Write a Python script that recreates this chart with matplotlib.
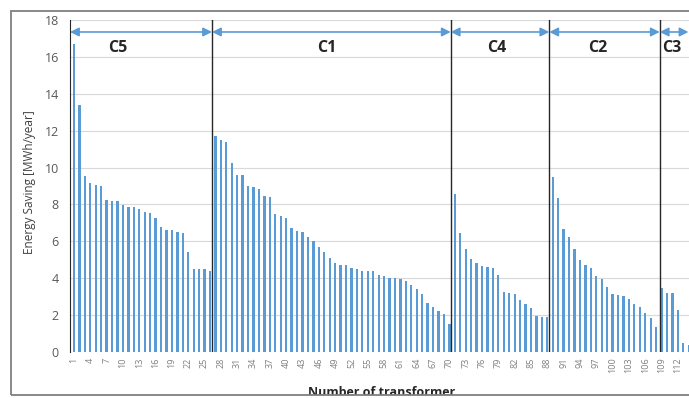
import numpy as np
import matplotlib.pyplot as plt
from matplotlib.patches import Rectangle

plt.rcParams['font.family'] = ['Open Sans', 'DejaVu Sans']

# Energy saving per transformer [MWh/year], sorted within each cluster
c5 = [16.7, 13.4, 9.54, 9.16, 9.07, 9.0, 8.23, 8.17, 8.17, 7.99, 7.86, 7.86, 7.74,
      7.61, 7.52, 7.28, 6.78, 6.62, 6.62, 6.51, 6.45, 5.44, 4.5, 4.5, 4.5, 4.41]
c1 = [11.71, 11.5, 11.37, 10.25, 9.6, 9.6, 9.0, 8.93, 8.82, 8.46, 8.41, 7.47, 7.39,
      7.27, 6.74, 6.54, 6.5, 6.25, 6.04, 5.69, 5.44, 5.08, 4.81, 4.72, 4.72, 4.56,
      4.48, 4.41, 4.39, 4.37, 4.19, 4.14, 4.01, 4.0, 3.98, 3.85, 3.65, 3.42, 3.13,
      2.64, 2.42, 2.22, 2.06, 1.54]
c4 = [8.58, 6.44, 5.57, 5.03, 4.84, 4.66, 4.59, 4.54, 4.19, 3.24, 3.18, 3.13, 2.8,
      2.59, 2.4, 1.97, 1.88, 1.88]
c2 = [9.49, 8.33, 6.69, 6.25, 5.57, 4.97, 4.72, 4.56, 4.12, 3.96, 3.52, 3.15, 3.07,
      3.02, 2.87, 2.59, 2.42, 2.1, 1.83, 1.36]
c3 = [3.45, 3.18, 3.18, 2.29, 0.5, 0.36]

savings = c5 + c1 + c4 + c2 + c3
n = np.arange(1, len(savings) + 1)

cluster_names = ['C5', 'C1', 'C4', 'C2', 'C3']
boundaries = [26.37, 70.25, 88.37, 108.67]  # separator lines between clusters
label_x = [9.1, 47.5, 78.8, 97.3, 110.9]

blue = '#5B9BD5'

fig = plt.figure(figsize=(6.89, 3.98), dpi=100)
ax = fig.add_axes([70/689, 1-352/398, (689-70)/689, (352-20)/398])

ax.bar(n, savings, width=0.42, color=blue, zorder=2)

x_left, x_right = 0.265, 114.05
ax.set_xlim(x_left, x_right)
ax.set_ylim(0, 18)
ax.set_yticks(np.arange(0, 19, 2))
ax.set_xticks(n[::3])
ax.set_xticklabels([str(v) for v in n[::3]], rotation=90, fontsize=6.5, color='#7F7F7F')
ax.tick_params(axis='y', labelsize=9, labelcolor='#595959', length=0, pad=8)
ax.tick_params(axis='x', length=0, pad=4)
ax.grid(axis='y', color='#D9D9D9', lw=0.8, zorder=0)
ax.set_axisbelow(True)
for s in ['top', 'right', 'bottom']:
    ax.spines[s].set_visible(False)
ax.spines['left'].set_color('#262626')

for b in boundaries:
    ax.axvline(b, color='#262626', lw=1.0, zorder=3)

# cluster arrows
edges = [x_left] + boundaries + [113.95]
for i in range(len(cluster_names)):
    ax.annotate('', xy=(edges[i+1], 17.35), xytext=(edges[i], 17.35),
                arrowprops=dict(arrowstyle='<|-|>', color=blue, lw=1.2,
                                mutation_scale=13, shrinkA=0, shrinkB=0),
                annotation_clip=False)
    ax.text(label_x[i], 16.5, cluster_names[i], ha='center', va='center',
            fontsize=11.5, fontweight='bold', color='#262626')

fig.text(30/689, 1-182/398, 'Energy Saving [MWh/year]', rotation=90, ha='center',
         va='center', fontsize=8.5, color='#404040')
fig.text(382/689, 1-393/398, 'Number of transformer', ha='center', va='center',
         fontsize=9, fontweight='bold', color='#262626')

# white strip + outer frame (cuts the x label like the original)
fig.add_artist(Rectangle((0, 0), 1, 3/398, transform=fig.transFigure,
                         facecolor='white', edgecolor='none', zorder=10))
fig.add_artist(Rectangle((11/689, 1-395/398), 1.0, (395-11)/398, transform=fig.transFigure,
                         facecolor='none', edgecolor='#7F7F7F', lw=1.3, zorder=11))

fig.savefig('out.png', dpi=100)
